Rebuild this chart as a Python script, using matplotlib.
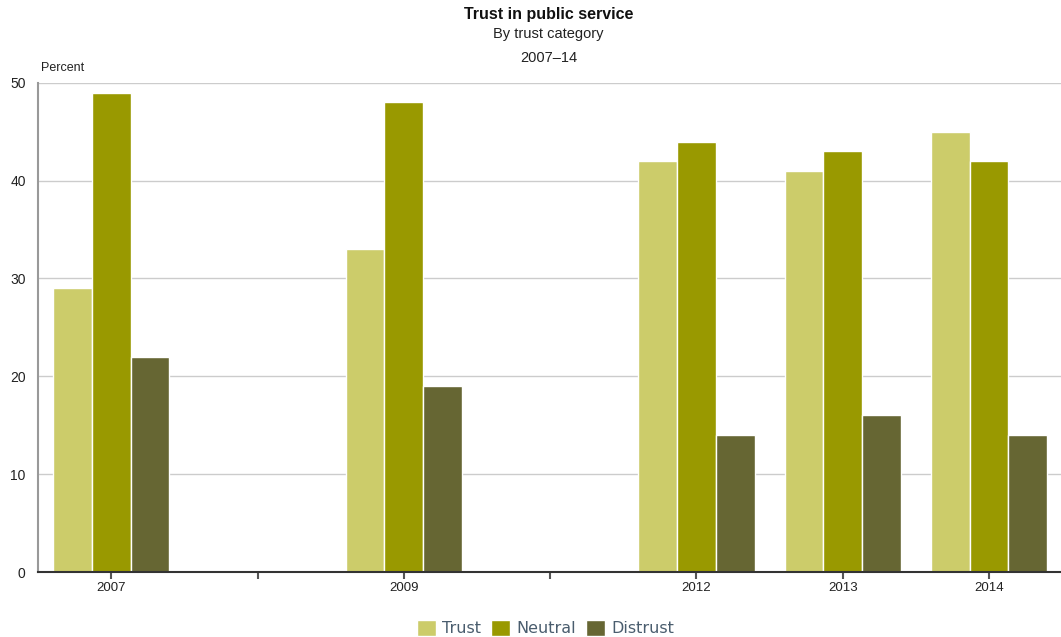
import numpy as np
import matplotlib.pyplot as plt

plt.rcParams['font.family'] = ['Liberation Sans', 'DejaVu Sans']

years = ['2007', '', '2009', '', '2012', '2013', '2014']
trust = [29, None, 33, None, 42, 41, 45]
neutral = [49, None, 48, None, 44, 43, 42]
distrust = [22, None, 19, None, 14, 16, 14]

series = ['Trust', 'Neutral', 'Distrust']
colors = ['#cccc6a', '#999900', '#666633']

fig = plt.figure(figsize=(10.61, 6.37), dpi=100)
ax = fig.add_axes([0.036, 0.102, 0.965, 0.768])

x = np.arange(len(years))
width = 0.265
for i, (name, vals, c) in enumerate(zip(series, [trust, neutral, distrust], colors)):
    v = np.array([np.nan if a is None else a for a in vals], dtype=float)
    ax.bar(x + (i - 1) * width, v, width, color=c, edgecolor='white', linewidth=1, label=name, zorder=2)

ax.set_xlim(-0.5, len(years) - 0.5)
ax.set_ylim(0, 50)
ax.set_yticks([0, 10, 20, 30, 40, 50])
ax.set_xticks(x)
ax.set_xticklabels(years)
ax.yaxis.grid(True, color='#cccccc', linewidth=1, zorder=0)
ax.set_axisbelow(True)
ax.tick_params(axis='y', length=0, pad=9, labelsize=10, labelcolor='#222222')
ax.tick_params(axis='x', length=5, width=1.5, color='#555555', labelsize=9.5, labelcolor='#222222', pad=2)

for s in ['top', 'right']:
    ax.spines[s].set_visible(False)
ax.spines['left'].set_color('#999999')
ax.spines['left'].set_linewidth(1.5)
ax.spines['bottom'].set_color('#333333')
ax.spines['bottom'].set_linewidth(1.5)
ax.spines['bottom'].set_zorder(3)

fig.text(0.517, 0.978, 'Trust in public service', ha='center', va='center', fontsize=11.5, fontweight='bold', color='#111111')
fig.text(0.517, 0.946, 'By trust category', ha='center', va='center', fontsize=10.5, color='#222222')
fig.text(0.517, 0.909, '2007\u201314', ha='center', va='center', fontsize=10.5, color='#222222')
fig.text(0.039, 0.894, 'Percent', ha='left', va='center', fontsize=9, color='#222222')

leg = fig.legend(loc='center', bbox_to_anchor=(0.514, 0.014), ncol=3, frameon=False,
                 handlelength=1.2, handleheight=1.2, handletextpad=0.4,
                 columnspacing=0.6, prop={'family': 'DejaVu Sans', 'size': 11.5})
for t in leg.get_texts():
    t.set_color('#4a5d6e')

fig.savefig('out.png', dpi=100)
